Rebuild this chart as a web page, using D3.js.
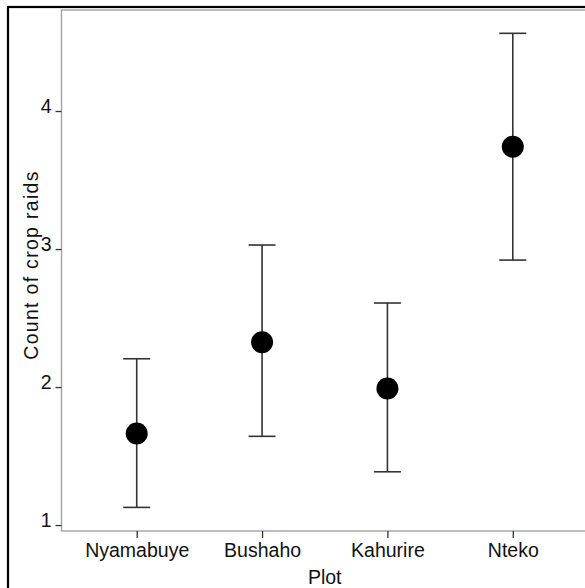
<!DOCTYPE html>
<html>
<head>
<meta charset="utf-8">
<script src="https://cdn.jsdelivr.net/npm/d3@7"></script>
<style>
  html, body { margin: 0; padding: 0; background: #fff; }
  svg { display: block; font-family: "Liberation Sans", Arial, sans-serif; }
</style>
</head>
<body>
<svg id="chart" width="585" height="588"></svg>
<script>
// Mean count of crop raids per plot with confidence intervals
const plots = ["Nyamabuye", "Bushaho", "Kahurire", "Nteko"];
const means = [1.664, 2.324, 1.99, 3.741];
const lower = [1.128, 1.643, 1.386, 2.92];
const upper = [2.205, 3.029, 2.609, 4.563];
const yTicks = [1, 2, 3, 4];

const svg = d3.select("#chart");

// outer frame
svg.append("rect")
  .attr("x", 8).attr("y", 7)
  .attr("width", 600).attr("height", 600)
  .attr("fill", "none").attr("stroke", "#000").attr("stroke-width", 2.2);

const panel = { left: 61.5, right: 588, top: 10, bottom: 531 };

const x = d3.scalePoint()
  .domain(plots)
  .range([panel.left, panel.right])
  .padding(0.6);

const y = d3.scaleLinear()
  .domain([0.957, 4.732])
  .range([panel.bottom, panel.top]);

// panel border
svg.append("rect")
  .attr("x", panel.left).attr("y", panel.top)
  .attr("width", 700).attr("height", panel.bottom - panel.top)
  .attr("fill", "none").attr("stroke", "#a3a3a3").attr("stroke-width", 1.4);

// y axis
const yAxis = svg.append("g")
  .attr("transform", `translate(${panel.left},0)`)
  .call(d3.axisLeft(y).tickValues(yTicks).tickSize(6).tickPadding(4).tickFormat(d3.format("d")));
yAxis.select(".domain").remove();
yAxis.selectAll(".tick line").attr("stroke", "#333").attr("stroke-width", 1.3);
yAxis.selectAll(".tick text")
  .attr("font-size", 19.5)
  .attr("fill", "#111")
  .attr("dy", "0.05em");

// x axis
const xAxis = svg.append("g")
  .attr("transform", `translate(0,${panel.bottom})`)
  .call(d3.axisBottom(x).tickSize(7).tickPadding(5));
xAxis.select(".domain").remove();
xAxis.selectAll(".tick line").attr("stroke", "#333").attr("stroke-width", 1.3);
xAxis.selectAll(".tick text")
  .attr("font-size", 19.5)
  .attr("fill", "#111");

// axis titles
svg.append("text")
  .attr("x", (panel.left + panel.right) / 2)
  .attr("y", 584)
  .attr("text-anchor", "middle")
  .attr("font-size", 19.5)
  .attr("fill", "#111")
  .text("Plot");

svg.append("text")
  .attr("transform", `translate(38,${(168 + 362) / 2}) rotate(-90)`)
  .attr("text-anchor", "middle")
  .attr("font-size", 19.5)
  .attr("letter-spacing", "1.3px")
  .attr("fill", "#111")
  .text("Count of crop raids");

// error bars
const rows = plots.map((p, i) => ({ p, m: means[i], lo: lower[i], hi: upper[i] }));
const capHalf = 13.5;

const bars = svg.append("g").attr("stroke", "#333").attr("stroke-width", 1.6);
bars.selectAll("line.v").data(rows).join("line")
  .attr("class", "v")
  .attr("x1", d => x(d.p)).attr("x2", d => x(d.p))
  .attr("y1", d => y(d.lo)).attr("y2", d => y(d.hi));
bars.selectAll("line.top").data(rows).join("line")
  .attr("class", "top")
  .attr("x1", d => x(d.p) - capHalf).attr("x2", d => x(d.p) + capHalf)
  .attr("y1", d => y(d.hi)).attr("y2", d => y(d.hi));
bars.selectAll("line.bot").data(rows).join("line")
  .attr("class", "bot")
  .attr("x1", d => x(d.p) - capHalf).attr("x2", d => x(d.p) + capHalf)
  .attr("y1", d => y(d.lo)).attr("y2", d => y(d.lo));

// mean points
svg.append("g").selectAll("circle").data(rows).join("circle")
  .attr("cx", d => x(d.p))
  .attr("cy", d => y(d.m))
  .attr("r", 11)
  .attr("fill", "#000");
</script>
</body>
</html>
